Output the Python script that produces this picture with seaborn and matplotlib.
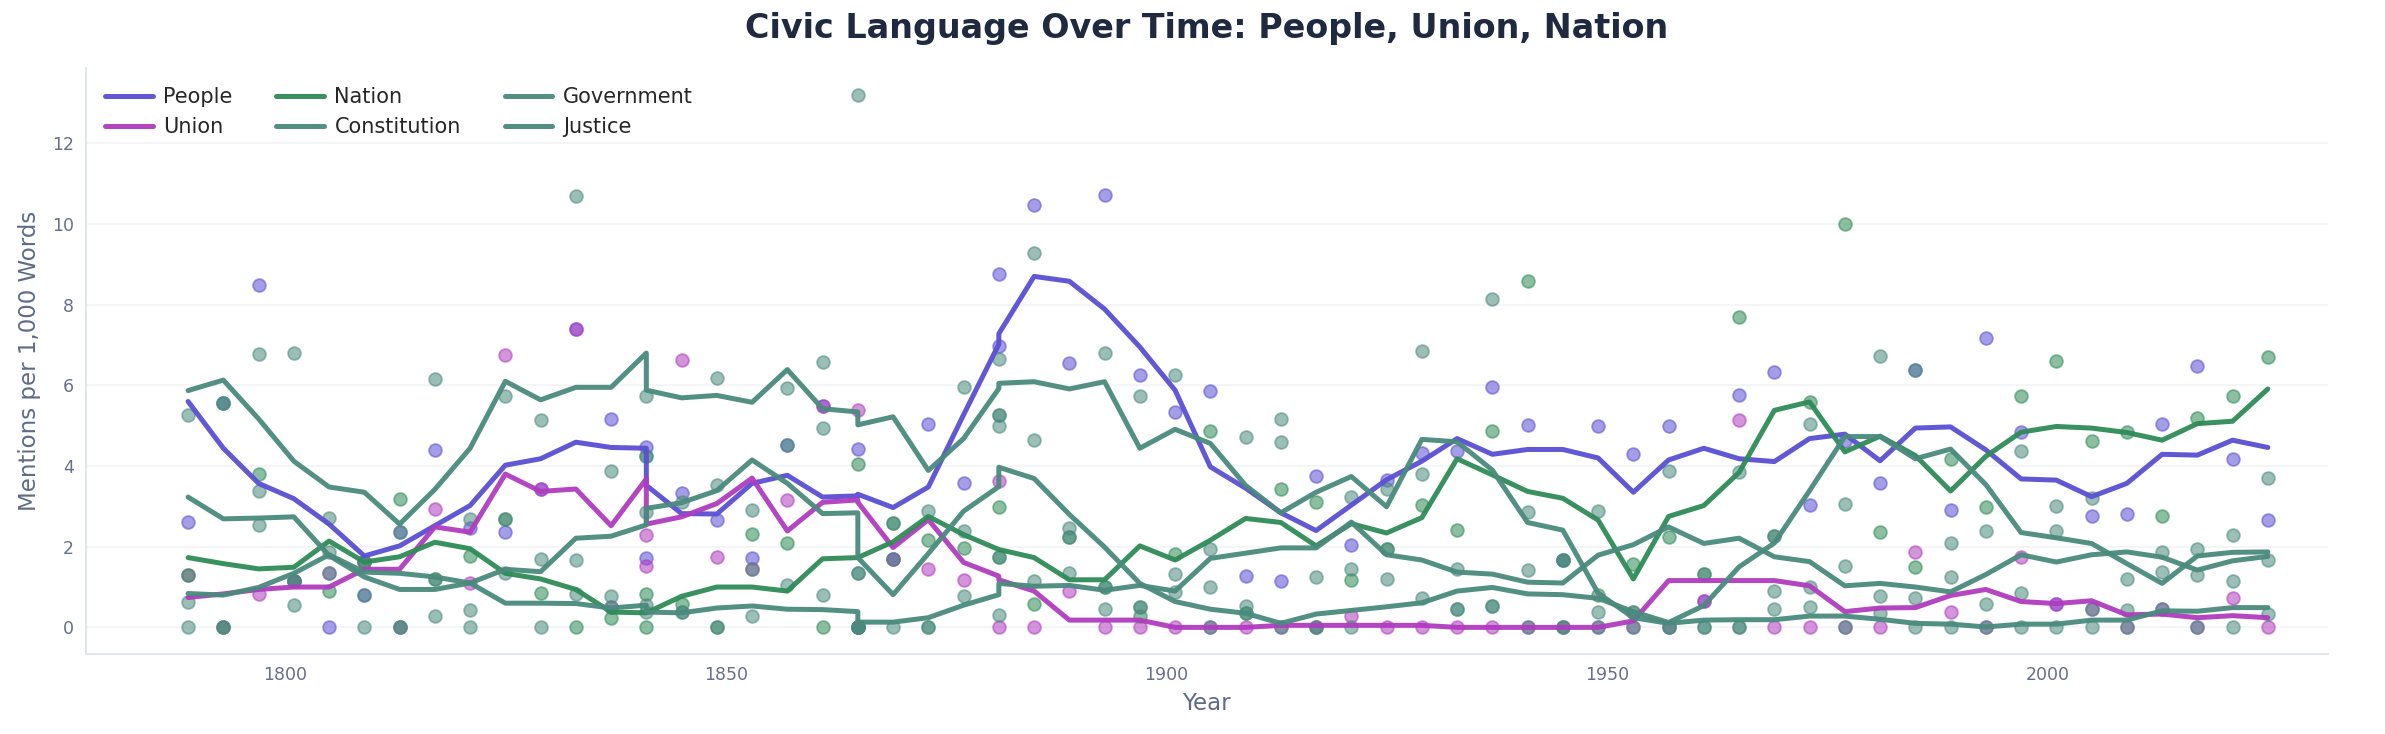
import matplotlib
matplotlib.use("Agg")
import matplotlib.pyplot as plt
import seaborn as sns

# inaugural years (1841, 1865, 1881 appear twice)
years = [1789, 1793, 1797, 1801, 1805, 1809, 1813, 1817, 1821, 1825, 1829, 1833, 1837,
         1841, 1841, 1845, 1849, 1853, 1857, 1861, 1865, 1865, 1869, 1873, 1877,
         1881, 1881, 1885, 1889, 1893, 1897, 1901, 1905, 1909, 1913, 1917, 1921,
         1925, 1929, 1933, 1937, 1941, 1945, 1949, 1953, 1957, 1961, 1965, 1969,
         1973, 1977, 1981, 1985, 1989, 1993, 1997, 2001, 2005, 2009, 2013, 2017,
         2021, 2025]

# smoothed trend lines
people_trend = [5.60, 4.44, 3.57, 3.19, 2.56, 1.77, 2.02, 2.52, 3.02, 4.02, 4.18, 4.59, 4.46,
                4.44, 3.52, 2.82, 2.81, 3.57, 3.77, 3.23, 3.26, 3.30, 2.97, 3.48, 5.27,
                7.02, 7.28, 8.70, 8.58, 7.89, 6.95, 5.88, 3.98, 3.45, 2.84, 2.40, 3.03,
                3.66, 4.12, 4.68, 4.29, 4.41, 4.41, 4.20, 3.35, 4.15, 4.44, 4.18, 4.11,
                4.68, 4.79, 4.13, 4.94, 4.97, 4.40, 3.68, 3.65, 3.24, 3.57, 4.29, 4.27,
                4.64, 4.46]
union_trend = [0.74, 0.83, 0.94, 1.00, 1.00, 1.44, 1.44, 2.49, 2.36, 3.80, 3.37, 3.43, 2.52,
               3.68, 2.56, 2.74, 3.07, 3.70, 2.39, 3.10, 3.16, 3.10, 1.98, 2.67, 1.61,
               1.27, 1.18, 0.90, 0.18, 0.18, 0.18, 0.00, 0.00, 0.00, 0.05, 0.05, 0.05,
               0.05, 0.05, 0.00, 0.00, 0.00, 0.00, 0.00, 0.16, 1.16, 1.16, 1.16, 1.16,
               1.03, 0.39, 0.48, 0.49, 0.79, 0.94, 0.64, 0.59, 0.66, 0.31, 0.33, 0.24,
               0.29, 0.24]
nation_trend = [1.73, 1.58, 1.45, 1.49, 2.14, 1.62, 1.75, 2.11, 1.95, 1.34, 1.20, 0.94, 0.38,
                0.36, 0.36, 0.77, 1.00, 1.00, 0.90, 1.70, 1.73, 1.73, 2.12, 2.75, 2.30,
                1.93, 1.93, 1.73, 1.18, 1.18, 2.02, 1.67, 2.16, 2.70, 2.60, 2.02, 2.57,
                2.34, 2.72, 4.18, 3.78, 3.37, 3.20, 2.66, 1.20, 2.75, 3.02, 3.84, 5.38,
                5.59, 4.35, 4.74, 4.26, 3.38, 4.24, 4.84, 4.98, 4.94, 4.83, 4.64, 5.05,
                5.11, 5.91]
constitution_trend = [3.23, 2.69, 2.71, 2.74, 1.78, 1.25, 0.94, 0.94, 1.10, 0.60, 0.60, 0.59, 0.48,
                      0.55, 0.38, 0.36, 0.48, 0.53, 0.45, 0.44, 0.39, 0.13, 0.13, 0.24, 0.55,
                      0.81, 1.09, 1.02, 1.04, 0.92, 1.04, 0.90, 1.71, 1.84, 1.97, 1.97, 2.61,
                      1.80, 1.67, 1.37, 1.32, 1.12, 1.10, 1.79, 2.05, 2.49, 2.08, 2.21, 1.75,
                      1.63, 1.03, 1.09, 1.00, 0.88, 1.31, 1.80, 1.62, 1.80, 1.87, 1.74, 1.42,
                      1.65, 1.76]
government_trend = [5.87, 6.13, 5.17, 4.12, 3.48, 3.35, 2.56, 3.42, 4.44, 6.10, 5.64, 5.95, 5.95,
                    6.80, 5.88, 5.69, 5.75, 5.58, 6.39, 5.42, 5.34, 5.02, 5.22, 3.89, 4.68,
                    5.92, 6.05, 6.09, 5.91, 6.09, 4.44, 4.91, 4.56, 3.52, 2.84, 3.35, 3.74,
                    2.99, 4.66, 4.60, 3.90, 2.60, 2.41, 0.85, 0.24, 0.10, 0.18, 0.19, 0.19,
                    0.28, 0.28, 0.20, 0.10, 0.08, 0.01, 0.08, 0.08, 0.18, 0.18, 0.41, 0.40,
                    0.49, 0.49]
justice_trend = [0.84, 0.80, 0.99, 1.34, 1.80, 1.37, 1.34, 1.25, 1.10, 1.44, 1.38, 2.21, 2.26,
                 2.54, 2.95, 3.09, 3.39, 4.15, 3.57, 2.82, 2.84, 1.73, 0.81, 1.83, 2.88,
                 3.49, 3.97, 3.69, 2.80, 1.99, 1.09, 0.64, 0.45, 0.35, 0.10, 0.33, 0.42,
                 0.51, 0.61, 0.90, 0.99, 0.83, 0.81, 0.72, 0.39, 0.12, 0.54, 1.50, 2.09,
                 3.39, 4.73, 4.73, 4.18, 4.42, 3.54, 2.35, 2.22, 2.08, 1.58, 1.09, 1.77,
                 1.86, 1.87]

# per-address values
people_pts = [2.62, 5.55, 8.48, 1.15, 0.00, 0.80, 2.37, 4.40, 2.46, 2.37, 3.43, 7.40, 5.17,
              4.48, 1.73, 3.33, 2.65, 1.73, 4.53, 5.49, 4.41, 0.00, 1.70, 5.05, 3.57,
              8.77, 6.98, 10.47, 6.56, 10.72, 6.26, 5.35, 5.87, 1.27, 1.15, 3.74, 2.05,
              3.65, 4.33, 4.37, 5.97, 5.01, 1.67, 4.99, 4.31, 4.99, 0.66, 5.75, 6.34,
              3.04, 4.62, 3.57, 6.38, 2.91, 7.18, 4.85, 0.59, 2.75, 2.82, 5.05, 6.48,
              4.18, 2.67]
union_pts = [1.30, 0.00, 0.83, 1.15, 1.34, 1.62, 0.00, 2.93, 1.09, 6.76, 3.43, 7.40, 0.51,
             2.30, 1.51, 6.63, 1.75, 1.44, 3.15, 5.49, 5.38, 0.00, 1.70, 1.44, 1.18,
             3.64, 0.00, 0.00, 0.90, 0.00, 0.00, 0.00, 0.00, 0.00, 0.00, 0.00, 0.27,
             0.00, 0.00, 0.00, 0.00, 0.00, 0.00, 0.00, 0.00, 0.00, 0.66, 5.14, 0.00,
             0.00, 0.00, 0.00, 1.86, 0.39, 0.00, 1.75, 0.59, 0.45, 0.00, 0.46, 0.00,
             0.74, 0.00]
nation_pts = [1.30, 0.00, 3.81, 1.15, 0.90, 1.62, 3.17, 1.21, 1.77, 2.69, 0.86, 0.00, 0.24,
              0.83, 0.00, 0.59, 0.00, 2.32, 2.10, 0.00, 4.05, 0.00, 2.58, 2.17, 1.97,
              2.98, 1.75, 0.58, 2.23, 0.99, 0.27, 1.81, 4.88, 0.36, 3.44, 3.10, 1.18,
              1.95, 3.04, 2.41, 4.88, 8.59, 1.67, 0.81, 1.58, 2.23, 1.32, 7.70, 2.26,
              5.58, 9.99, 2.37, 1.49, 4.18, 2.98, 5.73, 6.60, 4.62, 4.85, 2.75, 5.18,
              5.73, 6.70]
constitution_pts = [0.64, 5.55, 3.39, 0.55, 1.86, 0.80, 0.00, 1.21, 0.44, 2.69, 1.70, 1.66, 0.77,
                    4.24, 2.87, 0.39, 3.52, 1.44, 4.53, 4.94, 1.34, 0.00, 1.70, 0.00, 2.39,
                    5.27, 4.98, 4.64, 2.23, 0.99, 0.51, 1.33, 0.99, 0.53, 4.59, 0.00, 1.44,
                    1.21, 3.80, 0.46, 0.52, 1.42, 0.00, 0.39, 0.39, 0.00, 0.00, 0.00, 0.90,
                    0.99, 1.53, 0.77, 0.74, 1.25, 0.59, 0.86, 2.40, 0.45, 0.42, 1.38, 1.29,
                    1.15, 1.67]
government_pts = [5.27, 5.55, 6.77, 6.80, 2.72, 1.62, 2.37, 6.16, 2.68, 5.73, 5.14, 10.69, 3.87,
                  5.73, 4.24, 3.10, 6.17, 2.91, 5.93, 6.58, 13.20, 0.00, 2.58, 2.89, 5.95,
                  6.65, 5.27, 9.29, 2.47, 6.80, 5.73, 6.25, 1.95, 4.72, 5.16, 1.25, 3.22,
                  3.44, 6.86, 1.44, 8.14, 2.87, 1.67, 2.89, 0.39, 3.87, 1.32, 3.85, 2.26,
                  5.05, 3.07, 6.73, 6.38, 2.08, 2.39, 4.38, 3.00, 3.20, 1.21, 1.86, 1.95,
                  2.30, 3.70]
justice_pts = [0.00, 0.00, 2.54, 1.15, 1.34, 0.00, 0.00, 0.29, 0.00, 1.35, 0.00, 0.83, 0.51,
               0.55, 0.38, 0.39, 0.00, 0.27, 1.06, 0.81, 0.00, 1.34, 0.00, 0.00, 0.77,
               1.75, 0.31, 1.16, 1.35, 0.46, 0.51, 0.87, 0.00, 0.36, 0.00, 0.00, 0.00,
               1.95, 0.74, 0.46, 0.52, 0.00, 0.00, 0.00, 0.00, 0.00, 0.00, 0.00, 0.45,
               0.51, 0.00, 0.36, 0.00, 0.00, 0.00, 0.00, 0.00, 0.00, 0.00, 0.46, 0.00,
               0.00, 0.33]

terms = ["People", "Union", "Nation", "Constitution", "Government", "Justice"]
trends = [people_trend, union_trend, nation_trend, constitution_trend, government_trend, justice_trend]
points = [people_pts, union_pts, nation_pts, constitution_pts, government_pts, justice_pts]
colors = ["#5a4fd3", "#b03cbf", "#2e8b57", "#4a8a7d", "#4a8a7d", "#4a8a7d"]

sns.set_style("white")
plt.rcParams['font.family'] = ['DejaVu Sans']

fig, ax = plt.subplots(figsize=(23.85, 7.34), dpi=100)
fig.subplots_adjust(left=0.036, right=0.976, top=0.907, bottom=0.109)

for term, pts, col in zip(terms, points, colors):
    sns.scatterplot(x=years, y=pts, color=col, s=85, alpha=0.55, edgecolor=col,
                    linewidth=1.3, legend=False, ax=ax, zorder=2)

for term, tr, col in zip(terms, trends, colors):
    sns.lineplot(x=years, y=tr, color=col, lw=3.6, alpha=0.95, estimator=None,
                 sort=False, label=term, ax=ax, zorder=3)

ax.set_xlim(1777.4, 2031.8)
ax.set_xticks([1800, 1850, 1900, 1950, 2000])
ax.set_yticks([0, 2, 4, 6, 8, 10, 12])
ax.grid(axis="y", color="#f2f3f6", lw=1.2)
ax.set_axisbelow(True)

for s in ["top", "right"]:
    ax.spines[s].set_visible(False)
for s in ["left", "bottom"]:
    ax.spines[s].set_color("#dde3ec")
    ax.spines[s].set_linewidth(1.3)

ax.tick_params(axis="both", colors="#66708a", labelsize=12.5, length=5, width=1.2)
ax.set_xlabel("Year", fontsize=16.5, color="#5f6b85", labelpad=6)
ax.set_ylabel("Mentions per 1,000 Words", fontsize=16.5, color="#5f6b85", labelpad=8)
ax.set_title("Civic Language Over Time: People, Union, Nation", fontsize=24,
             fontweight="bold", color="#1f2a40", pad=22)

ax.legend(loc="upper left", ncol=3, frameon=False, fontsize=15, handlelength=2.3,
          handletextpad=0.5, columnspacing=2.1, borderaxespad=0.5)

fig.savefig("out.png", dpi=100)
